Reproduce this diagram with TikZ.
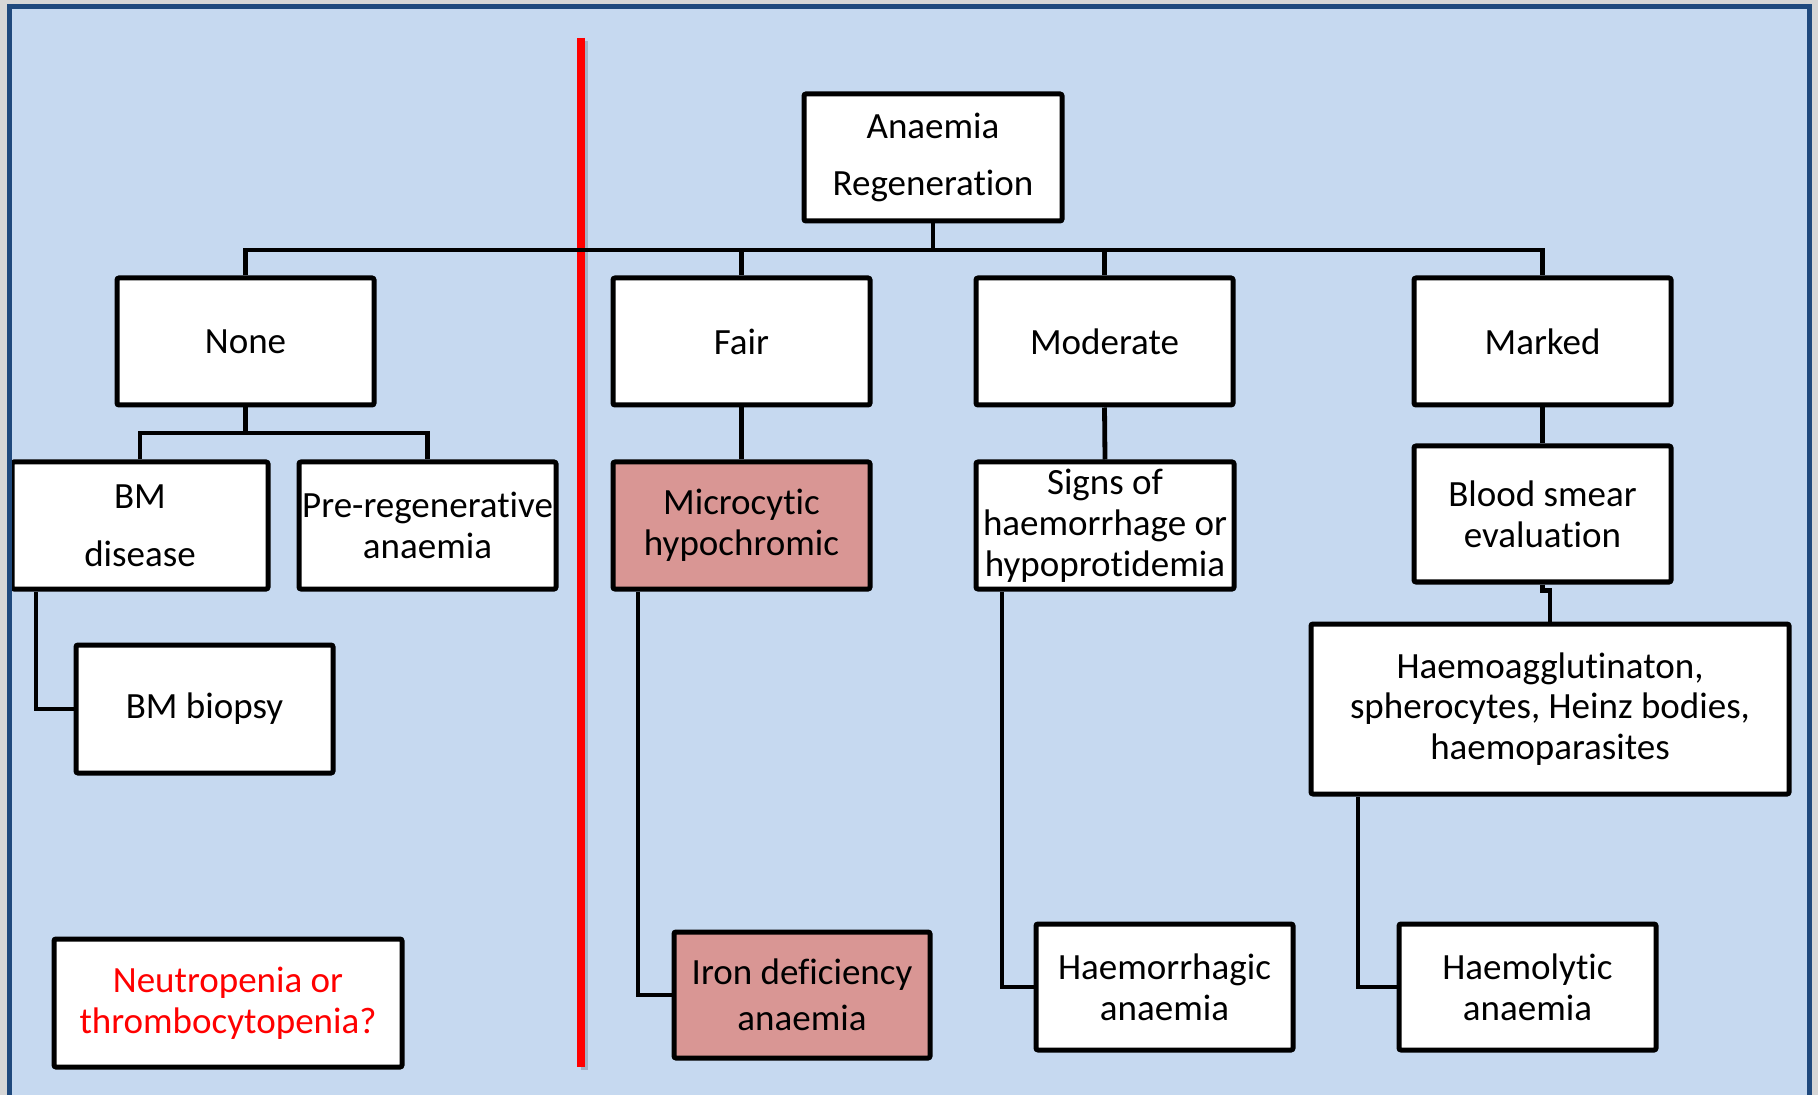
\documentclass[tikz,border=0pt]{standalone}
\usepackage{fontspec}
\setmainfont[Ligatures=NoCommon]{Carlito}
\definecolor{bgblue}{HTML}{C6D9F0}
\definecolor{frameblue}{HTML}{1F497D}
\definecolor{pinkfill}{HTML}{D99694}
\definecolor{outgrey}{HTML}{D6D6D6}
\newcommand{\fsz}[1]{\fontsize{18.5}{#1}\selectfont}
\begin{document}
\begin{tikzpicture}[x=0.5pt,y=-0.5pt,
  box/.style={draw=black, line width=2.5pt, fill=white, align=center, inner sep=0pt, rounded corners=1pt, font=\fsz{20.3}},
  pinkbox/.style={box, fill=pinkfill},
  lvl/.style={minimum width=128.5pt, minimum height=63.5pt},
  conn/.style={draw=black, line width=2.4pt, line join=miter}]
\useasboundingbox (0,0) rectangle (1818,1095);
\fill[outgrey] (0,0) rectangle (1818,1095);
\fill[bgblue] (9.5,6.5) rectangle (1809.5,1110);

% red divider
\coordinate (rtop) at (581,38);
\coordinate (rbot) at (581,1067);
\draw[black, opacity=0.18, line width=3.5pt] ([shift={(3,3)}]rtop) -- ([shift={(3,3)}]rbot);
\draw[red, line width=3.6pt] (rtop) -- (rbot);

% nodes
\node[box, minimum width=129pt, minimum height=63.5pt, font=\fsz{28.5}] (anaemia) at (933,157.5) {Anaemia\\Regeneration};
\node[box, lvl] (none) at (245.5,341.5) {None};
\node[box, lvl] (fair) at (741.5,341.5) {Fair};
\node[box, lvl] (moderate) at (1104.5,341.5) {Moderate};
\node[box, lvl] (marked) at (1542.5,341.5) {Marked};

\node[box, lvl, minimum width=128pt, font=\fsz{29}] (bmd) at (140,525.5) {BM\\disease};
\node[box, lvl] (prereg) at (427.5,525.5) {Pre-regenerative\\anaemia};
\node[pinkbox, lvl] (micro) at (741.5,525.5) {Microcytic\\hypochromic};
\node[box, lvl, minimum width=129pt, font=\fsz{20.5}] (signs) at (1105,525.5) {Signs of\\haemorrhage or\\hypoprotidemia};
\node[box, minimum width=128.5pt, minimum height=68pt] (smear) at (1542.5,514) {Blood smear\\evaluation};
\node[box, minimum width=239pt, minimum height=85pt] (haemo) at (1550,709) {Haemoagglutinaton,\\spherocytes, Heinz bodies,\\haemoparasites};

\node[box, minimum width=128.5pt, minimum height=64pt] (biopsy) at (204.5,709) {BM biopsy};
\node[pinkbox, minimum width=128pt, minimum height=63pt, font=\fsz{23}] (iron) at (802,995) {Iron deficiency\\anaemia};
\node[box, minimum width=128.5pt, minimum height=63pt] (hrrhagic) at (1164.5,987) {Haemorrhagic\\anaemia};
\node[box, minimum width=128.5pt, minimum height=63pt] (hlytic) at (1527.5,987) {Haemolytic\\anaemia};
\node[box, minimum width=174pt, minimum height=64pt, text=red] (neutro) at (228,1003) {Neutropenia or\\thrombocytopenia?};

% connectors
\coordinate (bus1) at (0,250);
\coordinate (bus2) at (0,433);
\draw[conn] (anaemia.south) -- (anaemia.south |- bus1);
\draw[conn] (none.north) -- (none.north |- bus1) -- (marked.north |- bus1) -- (marked.north);
\draw[conn] (fair.north) -- (fair.north |- bus1);
\draw[conn] (moderate.north) -- (moderate.north |- bus1);
\draw[conn] (none.south) -- (none.south |- bus2);
\draw[conn] (bmd.north) -- (bmd.north |- bus2) -- (prereg.north |- bus2) -- (prereg.north);
\draw[conn] (fair.south) -- (micro.north);
\draw[conn] (moderate.south) -- (signs.north);
\draw[conn] (marked.south) -- (smear.north);
\draw[conn] (smear.south) -- ++(0,6) -| (haemo.north);

\coordinate (l1) at (36,0);
\coordinate (l2) at (638,0);
\coordinate (l3) at (1002,0);
\coordinate (l4) at (1358,0);
\draw[conn] (l1 |- bmd.south) |- (biopsy.west);
\draw[conn] (l2 |- micro.south) |- (iron.west);
\draw[conn] (l3 |- signs.south) |- (hrrhagic.west);
\draw[conn] (l4 |- haemo.south) |- (hlytic.west);

% frame
\draw[frameblue, line width=2.5pt] (9.5,1120) -- (9.5,6.5) -- (1809.5,6.5) -- (1809.5,1120);
\end{tikzpicture}
\end{document}
